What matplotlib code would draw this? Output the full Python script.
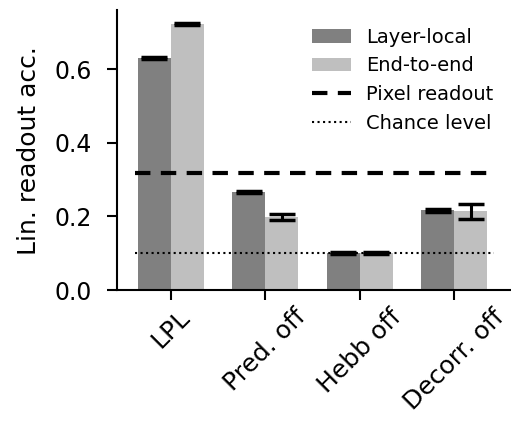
import numpy as np
import matplotlib
matplotlib.use("Agg")
import matplotlib.pyplot as plt

conditions = ["LPL", "Pred. off", "Hebb off", "Decorr. off"]
layer_local = [0.630, 0.266, 0.100, 0.216]
layer_local_err = [0.004, 0.003, 0.002, 0.004]
end_to_end = [0.722, 0.198, 0.100, 0.214]
end_to_end_err = [0.002, 0.009, 0.002, 0.021]
pixel_readout = 0.319
chance_level = 0.1

x = np.arange(len(conditions))
w = 0.35

fig = plt.figure(figsize=(5.11, 4.21), dpi=100)
ax = fig.add_axes([0.229, 0.311, 0.771, 0.665])

err_kw = dict(ecolor="black", elinewidth=2.2, capsize=9.5, capthick=2.5)
b1 = ax.bar(x - w/2, layer_local, w, yerr=layer_local_err, color="#808080",
            label="Layer-local", error_kw=err_kw)
b2 = ax.bar(x + w/2, end_to_end, w, yerr=end_to_end_err, color="#bfbfbf",
            label="End-to-end", error_kw=err_kw)

l1 = ax.hlines(pixel_readout, -0.38, 3.42, colors="black", lw=3,
               linestyles=(0, (3.7, 2.5)), label="Pixel readout")
l2 = ax.hlines(chance_level, -0.38, 3.42, colors="black", lw=1.5,
               linestyles=":", label="Chance level")

ax.set_xlim(-0.57, 3.6)
ax.set_ylim(0, 0.76)
ax.set_yticks([0.0, 0.2, 0.4, 0.6])
ax.set_xticks(x)
ax.set_xticklabels(conditions, rotation=45, fontsize=18)
ax.tick_params(axis="y", labelsize=17, length=7, width=1.5, pad=11)
ax.tick_params(axis="x", length=7, width=1.5)
ax.set_ylabel("Lin. readout acc.", fontsize=18, labelpad=10)

for s in ["top", "right"]:
    ax.spines[s].set_visible(False)
for s in ["left", "bottom"]:
    ax.spines[s].set_linewidth(1.5)

ax.legend([b1, b2, l1, l2],
          ["Layer-local", "End-to-end", "Pixel readout", "Chance level"],
          loc="upper right", bbox_to_anchor=(1.0, 1.0), fontsize=14,
          frameon=False)

fig.savefig("out.png", dpi=100)
